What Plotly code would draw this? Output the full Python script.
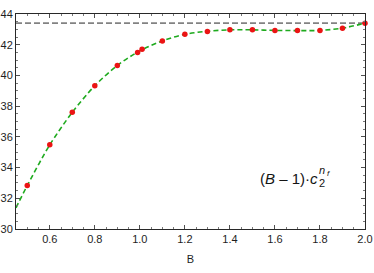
import plotly.graph_objects as go

# data points (red dots)
B_pts = [0.5, 0.6, 0.7, 0.8, 0.9, 0.99, 1.01, 1.1, 1.2, 1.3, 1.4, 1.5, 1.6, 1.7, 1.8, 1.9, 2.0]
val_pts = [32.83, 35.48, 37.6, 39.33, 40.65, 41.5, 41.7, 42.25, 42.68, 42.86, 42.97, 42.97, 42.93, 42.93, 42.93, 43.08, 43.4]

# fitted curve (green dashed)
B_fit = [0.45, 0.5, 0.6, 0.7, 0.8, 0.9, 1.0, 1.1, 1.2, 1.3, 1.4, 1.5, 1.6, 1.7, 1.8, 1.9, 2.0]
val_fit = [31.38, 32.83, 35.48, 37.6, 39.33, 40.65, 41.6, 42.25, 42.68, 42.88, 42.97, 42.97, 42.93, 42.92, 42.93, 43.08, 43.4]

asymptote = 43.4

x_range = [0.45, 2.0]
y_range = [30, 44]
x_ticks = [0.6, 0.8, 1.0, 1.2, 1.4, 1.6, 1.8, 2.0]
x_ticktext = ["0.6", "0.8", "1.0", "1.2", "1.4", "1.6", "1.8", "2.0"]
y_ticks = [30, 32, 34, 36, 38, 40, 42, 44]

FONT = "Liberation Sans, Arial, sans-serif"
TXT = "rgb(30,30,30)"

fig = go.Figure()
fig.add_trace(go.Scatter(
    x=B_fit, y=val_fit, mode="lines",
    line=dict(color="rgb(30,170,30)", width=1.6, dash="5px,3px", shape="spline", smoothing=0.8),
    hoverinfo="skip", showlegend=False))
fig.add_trace(go.Scatter(
    x=B_pts, y=val_pts, mode="markers",
    marker=dict(color="rgb(235,20,20)", size=5.5),
    cliponaxis=False,
    showlegend=False))

fig.add_shape(type="line", xref="paper", x0=0, x1=1, yref="y", y0=asymptote, y1=asymptote,
              line=dict(color="rgb(130,130,130)", width=1.8, dash="6px,3px"), layer="below")

axis_common = dict(
    automargin=False,
    showgrid=False, zeroline=False, showline=True, linecolor="rgb(40,40,40)", linewidth=1,
    mirror="ticks", ticks="inside", ticklen=4, tickcolor="rgb(80,80,80)", tickwidth=0.8,
    tickfont=dict(family=FONT, size=11, color=TXT),
    ticklabeloverflow="allow",
)

fig.update_xaxes(range=x_range, tickvals=x_ticks, ticktext=x_ticktext,
                 minor=dict(dtick=0.05, tick0=0, ticks="inside", ticklen=2, tickcolor="rgb(120,120,120)"),
                 title=dict(text="B", font=dict(family=FONT, size=11, color=TXT), standoff=11),
                 **axis_common)
fig.update_yaxes(range=y_range, tickvals=y_ticks,
                 minor=dict(dtick=0.5, tick0=0, ticks="inside", ticklen=2, tickcolor="rgb(120,120,120)"),
                 **axis_common)

fig.add_annotation(x=0.870, y=0.233, xref="paper", yref="paper", xanchor="right", yanchor="middle",
                   text="(<i>B</i> \u2013 1)\u00b7<i>c</i>", showarrow=False,
                   font=dict(family=FONT, size=15, color="rgb(20,20,20)"))
fig.add_annotation(x=0.862, y=0.2126, xref="paper", yref="paper", xanchor="left", yanchor="middle",
                   text="2", showarrow=False, font=dict(family=FONT, size=11, color="rgb(20,20,20)"))
fig.add_annotation(x=0.862, y=0.274, xref="paper", yref="paper", xanchor="left", yanchor="middle",
                   text="<i>n</i>", showarrow=False, font=dict(family=FONT, size=11, color="rgb(20,20,20)"))
fig.add_annotation(x=0.884, y=0.258, xref="paper", yref="paper", xanchor="left", yanchor="middle",
                   text="<i>f</i>", showarrow=False, font=dict(family=FONT, size=8, color="rgb(20,20,20)"))

fig.update_layout(
    width=374, height=273,
    margin=dict(l=16, r=9, t=14, b=44),
    plot_bgcolor="white", paper_bgcolor="white",
    font=dict(family=FONT),
)

fig.write_html("out.html", config={"displayModeBar": False},
               post_script="document.body.style.margin='0';")
